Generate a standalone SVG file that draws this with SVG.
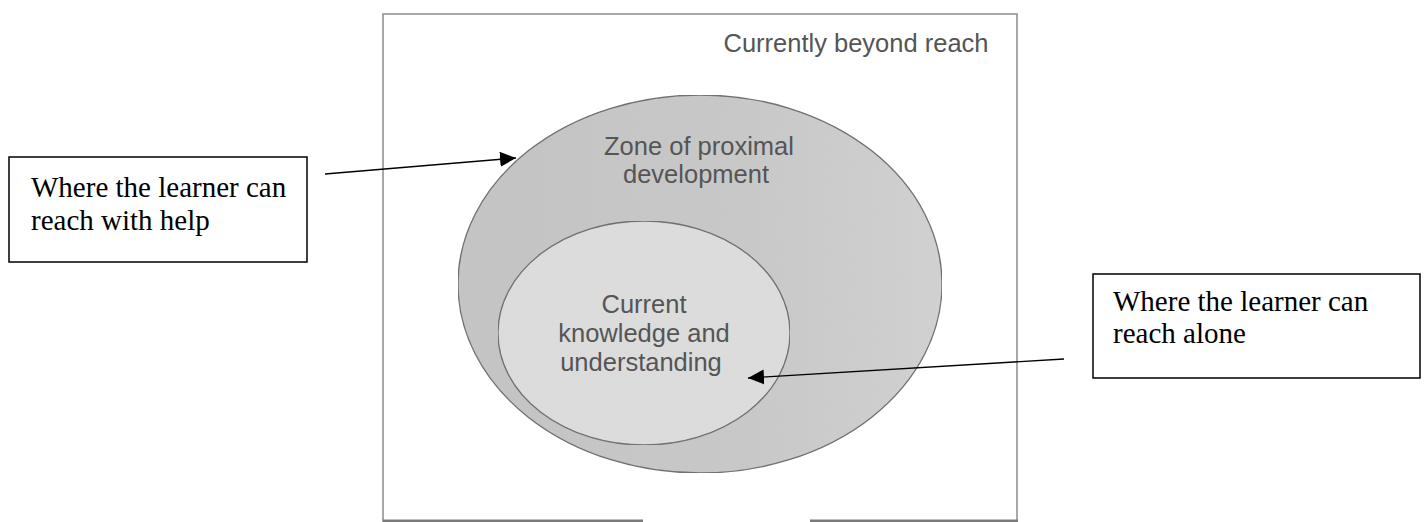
<svg xmlns="http://www.w3.org/2000/svg" width="1427" height="522" viewBox="0 0 1427 522">
  <style>
    .frame { fill: #ffffff; stroke: #8c8c8c; stroke-width: 1.5; }
    .scanText { font-family: "Liberation Sans", Arial, sans-serif; font-size: 25.5px; fill: #555555; text-anchor: middle; }
    .zone { fill: url(#outerFill); stroke: #6a6a6a; stroke-width: 1.3; }
    .core { fill: #dedede; stroke: #6a6a6a; stroke-width: 1.3; }
    .noteBox { fill: #ffffff; stroke: #000000; stroke-width: 1.5; }
    .noteText { font-family: "Liberation Serif", "Times New Roman", serif; font-size: 29px; fill: #000000; }
    .arrow { fill: none; stroke: #000000; stroke-width: 1.4; marker-end: url(#head); }
    .edge { fill: #7a7a7a; }
  </style>
  <defs>
    <marker id="head" markerUnits="userSpaceOnUse" markerWidth="18" markerHeight="16" refX="16" refY="7.5" orient="auto">
      <path d="M0,0 L16,7.5 L0,15 Z" fill="#000000"/>
    </marker>
    <linearGradient id="outerFill" x1="0" y1="0" x2="1" y2="0">
      <stop offset="0" stop-color="#c4c4c4"/>
      <stop offset="0.6" stop-color="#c9c9c9"/>
      <stop offset="1" stop-color="#d2d2d2"/>
    </linearGradient>
    <filter id="grain" x="0" y="0" width="100%" height="100%">
      <feTurbulence type="fractalNoise" baseFrequency="0.9" numOctaves="2" seed="3" result="noise"/>
      <feColorMatrix in="noise" type="matrix" values="0 0 0 0 0.5  0 0 0 0 0.5  0 0 0 0 0.5  0 0 0 0.12 0" result="speck"/>
      <feComposite in="speck" in2="SourceGraphic" operator="in" result="clipped"/>
      <feMerge>
        <feMergeNode in="SourceGraphic"/>
        <feMergeNode in="clipped"/>
      </feMerge>
    </filter>
  </defs>

  <!-- printed figure: outer frame -->
  <g id="frame">
    <path class="frame" d="M383,522 L383,14 L1017,14 L1017,522"/>
    <rect class="edge" x="383" y="519.5" width="260" height="2.5"/>
    <rect class="edge" x="810" y="519.5" width="208" height="2.5"/>
  </g>

  <g id="beyond-reach">
    <text class="scanText" x="856" y="52">Currently beyond reach</text>
  </g>

  <g id="zone-of-proximal-development">
    <ellipse class="zone" cx="700" cy="284" rx="242" ry="189" filter="url(#grain)"/>
    <text class="scanText" x="699" y="155">Zone of proximal</text>
    <text class="scanText" x="696" y="183">development</text>
  </g>

  <g id="current-knowledge">
    <ellipse class="core" cx="644" cy="333" rx="146" ry="112" filter="url(#grain)"/>
    <text class="scanText" x="644" y="313">Current</text>
    <text class="scanText" x="644" y="342">knowledge and</text>
    <text class="scanText" x="641" y="371">understanding</text>
  </g>

  <!-- callout boxes -->
  <g id="note-with-help">
    <rect class="noteBox" x="9" y="157" width="298" height="105"/>
    <text class="noteText" x="31" y="197">Where the learner can</text>
    <text class="noteText" x="31" y="230">reach with help</text>
  </g>

  <g id="note-alone">
    <rect class="noteBox" x="1093" y="274" width="327" height="104"/>
    <text class="noteText" x="1113" y="311">Where the learner can</text>
    <text class="noteText" x="1113" y="343">reach alone</text>
  </g>

  <!-- connectors -->
  <g id="connectors">
    <line class="arrow" x1="325" y1="174" x2="516" y2="158"/>
    <line class="arrow" x1="1064" y1="359" x2="748" y2="378"/>
  </g>
</svg>
